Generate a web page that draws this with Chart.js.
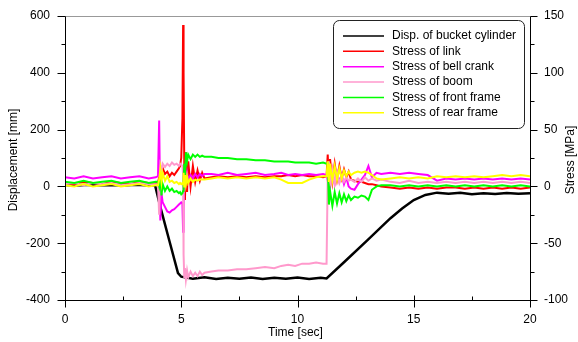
<!DOCTYPE html>
<html>
<head>
<meta charset="utf-8">
<script src="https://cdn.jsdelivr.net/npm/chart.js@4.4.1/dist/chart.umd.min.js"></script>
<style>
  body { margin: 0; background: #fff; }
  canvas { display: block; }
</style>
</head>
<body>
<canvas id="chart" width="578" height="342"></canvas>
<script>
// time axis shared by the stress series [sec]
const T = [
  0, 0.4, 0.8, 1.2, 1.6, 2.0, 2.4, 2.8, 3.2, 3.6, 3.9,
  4.0, 4.05, 4.1, 4.15, 4.2, 4.3, 4.4, 4.5, 4.6, 4.7, 4.8, 4.9, 4.95, 5.0, 5.05, 5.08, 5.1, 5.13, 5.16, 5.2, 5.25, 5.3, 5.4, 5.5, 5.6, 5.7, 5.8, 5.9, 6.0,
  6.3, 6.6, 7.0, 7.4, 7.8, 8.2, 8.6, 9.0, 9.3, 9.6, 9.9, 10.2, 10.5, 10.8, 11.1, 11.25,
  11.3, 11.35, 11.4, 11.5, 11.6, 11.7, 11.8, 11.9, 12.0, 12.1, 12.2, 12.3, 12.45, 12.6, 12.75, 12.9, 13.05, 13.2, 13.4, 13.6,
  14.0, 14.4, 14.8, 15.2, 15.6, 16.0, 16.4, 16.8, 17.2, 17.6, 18.0, 18.4, 18.8, 19.2, 19.6, 20.0
];

// stresses [MPa]
const linkStress = [
  3, 2, 4, 3, 2, 4, 3, 2, 4, 3, 3,
  3, 8, 14, 10, 16, 11, 13, 9, 12, 10, 13, 16, 18, 25, 60, 142, 100, 20, -12, 30, -5, 22, 0, 18, 4, 14, 5, 12, 7,
  8, 9, 8, 9, 8, 9, 8, 9, 9, 10, 9, 10, 9, 9, 8, 9,
  28, 2, 24, 4, 20, 6, 18, 7, 15, 8, 13, 6, 5, 4, 4, 3, 2, 2, 1, 0,
  -1, -2, -1, -2, -1, -2, -1, -1, -2, -1, -2, -1, -2, -1, -2, -1
];
const bellCrankStress = [
  8, 7, 9, 7, 8, 9, 7, 8, 9, 7, 8,
  9, 58, -30, -6, -14, -18, -22, -23, -21, -20, -18, -16, -15, -14, -15, -40, -20, 10, 14, 4, 12, 6, 10, 7, 11, 8, 11, 9, 11,
  11, 10, 12, 10, 11, 12, 10, 11, 12, 10, 11, 10, 11, 10, 11, 10,
  5, 15, 0, 14, 2, 12, 4, 10, 2, 8, 0, -2, -3, 2, 6, 10, 18, 8, 12, 11,
  12, 11, 12, 11, 10, 5, 7, 6, 7, 6, 7, 6, 7, 6, 7, 6
];
const boomStress = [
  2, 3, 1, 3, 2, 3, 1, 2, 3, 2, 2,
  2, -25, 18, 14, 20, 17, 20, 18, 21, 19, 20, 18, 20, 19, 18, 10, -60, -80, -72, -82, -74, -80, -75, -79, -76, -79, -75, -78, -76,
  -75, -74, -74, -73, -73, -72, -71, -72, -70, -69, -70, -68, -68, -67, -68, -68,
  10, 22, 0, 15, 2, 12, 3, 9, 4, 8, 5, 6, 4, 7, 4, 8, 5, 7, 5, 6,
  4, 3, 5, 3, 4, 3, 4, 3, 4, 3, 4, 3, 4, 3, 4, 3
];
const frontFrameStress = [
  4, 3, 5, 3, 4, 5, 3, 4, 5, 3, 4,
  4, 0, 10, -8, 2, -4, 0, -4, -2, -5, -4, -6, -5, -7, -6, -4, 5, 20, 8, 30, 22, 28, 24, 28, 26, 28, 26, 27, 26,
  26, 25, 25, 24, 24, 23, 23, 22, 22, 22, 21, 21, 21, 20, 21, 20,
  20, -16, -4, -17, -5, -15, -6, -14, -7, -13, -8, -12, -9, -10, -8, -9, -12, -3, 0, 1,
  1, 0, 1, 0, 1, 0, 1, 0, 1, 0, 1, 0, 1, 0, 1, 0
];
const rearFrameStress = [
  1, 0, 2, 0, 1, 2, 0, 1, 2, 0, 1,
  1, 6, 15, 4, 12, 5, 9, 4, 5, 3, 4, 2, 3, 2, 3, 2, 12, 0, 10, 2, 9, 3, 7, 4, 6, 5, 6, 6, 6,
  7, 8, 7, 8, 7, 8, 7, 8, 6, 3, 3, 3, 6, 8, 9, 9,
  22, 4, 20, 5, 18, 6, 16, 7, 14, 9, 13, 10, 12, 13, 12, 13, 12, 10, 7, 6,
  7, 8, 7, 8, 7, 9, 8, 9, 8, 9, 8, 9, 10, 9, 10, 9
];

// bucket cylinder displacement [mm]
const dispT = [0, 0.5, 1, 1.5, 2, 2.5, 3, 3.5, 3.87, 4.1, 4.5, 4.86, 5.0, 5.5, 6, 6.5, 7, 7.5, 8, 8.5, 9, 9.5, 10, 10.5, 11, 11.25,
  12, 13, 14, 14.5, 15, 15.5, 16, 16.5, 17, 17.5, 18, 18.5, 19, 19.5, 20];
const dispV = [5, 3, 6, 4, 5, 3, 6, 4, 5, -72, -195, -305, -318, -325, -320, -326, -322, -325, -321, -326, -322, -325, -321, -326, -322, -324,
  -267, -190, -112, -78, -48, -30, -22, -26, -22, -28, -24, -27, -23, -26, -24];

const seriesLabels = ['Disp. of bucket cylinder', 'Stress of link', 'Stress of bell crank', 'Stress of boom', 'Stress of front frame', 'Stress of rear frame'];
const seriesColors = ['#000000', '#ff0000', '#ff00ff', '#ff99cc', '#00ff00', '#ffff00'];

const timeTicks = [0, 5, 10, 15, 20];
const FONT = 'Liberation Sans, Arial, Helvetica, sans-serif';

const toPoints = (xs, ys) => xs.map((x, i) => ({ x: x, y: ys[i] }));
const stressSeries = [linkStress, bellCrankStress, boomStress, frontFrameStress, rearFrameStress];

const datasets = [{
  label: seriesLabels[0],
  data: toPoints(dispT, dispV),
  borderColor: seriesColors[0],
  borderWidth: 2.5,
  yAxisID: 'y',
  order: 6
}];
stressSeries.forEach((vals, i) => {
  datasets.push({
    label: seriesLabels[i + 1],
    data: toPoints(T, vals),
    borderColor: seriesColors[i + 1],
    borderWidth: 2,
    yAxisID: 'y1',
    order: 5 - i
  });
});

// frame, minor/major ticks, axis titles and boxed legend
const decor = {
  id: 'decor',
  afterDatasetsDraw(chart) {
    const { ctx, chartArea: a, scales } = chart;
    const L = Math.round(a.left) + 0.5, R = Math.round(a.right) + 0.5;
    const Tp = Math.round(a.top) + 0.5, B = Math.round(a.bottom) + 0.5;
    ctx.save();
    ctx.lineWidth = 1;
    ctx.strokeStyle = '#999';
    ctx.beginPath(); ctx.moveTo(L, Tp); ctx.lineTo(R, Tp); ctx.stroke();
    ctx.strokeStyle = '#000';
    ctx.beginPath();
    ctx.moveTo(L, Tp); ctx.lineTo(L, B); ctx.lineTo(R, B); ctx.lineTo(R, Tp);
    // left ticks
    for (let v = -400; v <= 600; v += 100) {
      const y = Math.round(scales.y.getPixelForValue(v)) + 0.5;
      ctx.moveTo(L, y); ctx.lineTo(L - (v % 200 === 0 ? 8 : 4), y);
    }
    // right ticks
    for (let v = -100; v <= 150; v += 25) {
      const y = Math.round(scales.y1.getPixelForValue(v)) + 0.5;
      ctx.moveTo(R, y); ctx.lineTo(R + (v % 50 === 0 ? 7 : 4), y);
    }
    // bottom ticks
    for (let t = 0; t <= 20; t += 2.5) {
      const x = Math.round(scales.x.getPixelForValue(t)) + 0.5;
      if (t % 5 === 0) { ctx.moveTo(x, B - 5); ctx.lineTo(x, B + 7); }
      else { ctx.moveTo(x, B - 4); ctx.lineTo(x, B); }
    }
    ctx.stroke();
    ctx.restore();
  },
  afterDraw(chart) {
    const { ctx, chartArea: a } = chart;
    ctx.save();
    ctx.fillStyle = '#000';
    ctx.font = '12px ' + FONT;
    ctx.textAlign = 'center';
    ctx.textBaseline = 'middle';
    ctx.fillText('Time [sec]', (a.left + a.right) / 2 - 2, 333);
    const midY = (a.top + a.bottom) / 2 + 2;
    ctx.save(); ctx.translate(14, midY); ctx.rotate(-Math.PI / 2); ctx.fillText('Displacement [mm]', 0, 0); ctx.restore();
    ctx.save(); ctx.translate(571, midY); ctx.rotate(-Math.PI / 2); ctx.fillText('Stress [MPa]', 0, 0); ctx.restore();

    // legend box
    const bx = 333.5, by = 20.5, bw = 191, bh = 108, r = 6;
    ctx.beginPath();
    ctx.moveTo(bx + r, by);
    ctx.arcTo(bx + bw, by, bx + bw, by + bh, r);
    ctx.arcTo(bx + bw, by + bh, bx, by + bh, r);
    ctx.arcTo(bx, by + bh, bx, by, r);
    ctx.arcTo(bx, by, bx + bw, by, r);
    ctx.closePath();
    ctx.fillStyle = '#fff';
    ctx.fill();
    ctx.strokeStyle = '#222';
    ctx.lineWidth = 1;
    ctx.stroke();
    ctx.textAlign = 'left';
    chart.data.datasets.forEach((ds, i) => {
      const y = 36 + i * 15.35;
      ctx.strokeStyle = ds.borderColor;
      ctx.lineWidth = 1.5;
      ctx.beginPath(); ctx.moveTo(343, y); ctx.lineTo(384, y); ctx.stroke();
      ctx.fillStyle = '#000';
      ctx.fillText(ds.label, 392, y);
    });
    ctx.restore();
  }
};

Chart.defaults.font.family = FONT;
Chart.defaults.font.size = 12;
Chart.defaults.color = '#000';

const fitY = w => s => { s.width = w; s.paddingTop = 0; s.paddingBottom = 0; };

new Chart(document.getElementById('chart'), {
  type: 'line',
  data: { datasets: datasets },
  options: {
    responsive: false,
    animation: false,
    devicePixelRatio: 1,
    layout: { padding: { top: 16, left: 0, right: 0, bottom: 0 } },
    elements: { point: { radius: 0 }, line: { tension: 0 } },
    plugins: { legend: { display: false }, tooltip: { enabled: false } },
    scales: {
      x: {
        type: 'linear', min: 0, max: 20,
        afterBuildTicks: s => { s.ticks = timeTicks.map(v => ({ value: v })); },
        ticks: { padding: 12, maxRotation: 0 },
        grid: { display: false, drawTicks: false }, border: { display: false },
        afterFit: s => { s.height = 42; s.paddingLeft = 0; s.paddingRight = 0; }
      },
      y: {
        position: 'left', min: -400, max: 600,
        ticks: { stepSize: 200, padding: 15 },
        grid: { display: false, drawTicks: false }, border: { display: false },
        afterFit: fitY(65)
      },
      y1: {
        position: 'right', min: -100, max: 150,
        ticks: { stepSize: 50, padding: 14 },
        grid: { display: false, drawTicks: false }, border: { display: false },
        afterFit: fitY(48)
      }
    }
  },
  plugins: [decor]
});
</script>
</body>
</html>
